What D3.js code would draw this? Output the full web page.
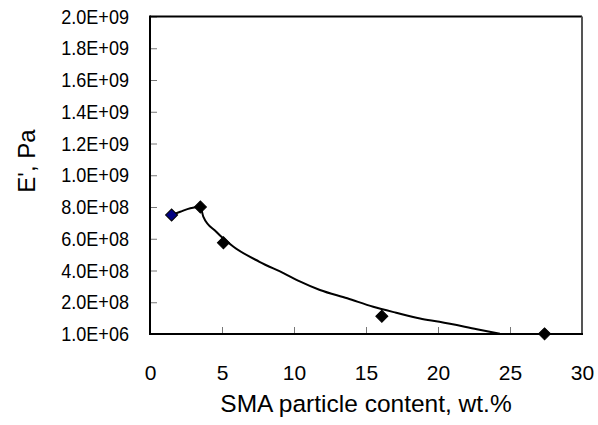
<!DOCTYPE html>
<html>
<head>
<meta charset="utf-8">
<script src="https://cdn.jsdelivr.net/npm/d3@7"></script>
<style>
  body { margin: 0; background: #fff; }
  text { font-family: "Liberation Sans", Arial, sans-serif; }
</style>
</head>
<body>
<div id="chart-area"></div>
<script>
// measured points (wt.% , E' in Pa)
var content = [1.5, 3.5, 5.1, 16.1, 27.4];
var modulus = [7.5e8, 8.0e8, 5.75e8, 1.12e8, 1e6];
var firstColor = ["#000080", "#000000", "#000000", "#000000", "#000000"];

// fitted trend line
var trendX = [1.5, 2.1, 2.8, 3.5, 3.7, 4.6, 5.8, 7.6, 9.3, 10.4, 11.8, 13.7, 15.5, 17.1, 18.75, 20.1, 22.7, 24.3];
var trendY = [7.5e8, 7.7e8, 7.92e8, 8.0e8, 7.4e8, 6.44e8, 5.5e8, 4.55e8, 3.82e8, 3.31e8, 2.77e8, 2.25e8, 1.72e8, 1.34e8, 0.98e8, 0.77e8, 0.3e8, 1e6];

var yTicks = [0, 2e8, 4e8, 6e8, 8e8, 1e9, 1.2e9, 1.4e9, 1.6e9, 1.8e9, 2e9];
var xTicks = [0, 5, 10, 15, 20, 25, 30];

var margin = { left: 150, right: 16, top: 16.5, bottom: 91 };
var width = 598 - margin.left - margin.right,
    height = 425 - margin.top - margin.bottom;

var svg = d3.select("#chart-area").append("svg")
    .attr("width", 598)
    .attr("height", 425);

var g = svg.append("g")
    .attr("transform", "translate(" + margin.left + "," + margin.top + ")");

var x = d3.scaleLinear().domain([0, 30]).range([0, width]);
var y = d3.scaleLinear().domain([0, 2e9]).range([height, 0]);

// ticks point inward
var xAxis = d3.axisBottom(x).tickValues(xTicks).tickSize(-7)
    .tickFormat(function (d) { return d; });
var gx = g.append("g")
    .attr("transform", "translate(0," + height + ")")
    .call(xAxis);
gx.select(".domain").remove();
gx.selectAll("line").attr("stroke", "#777");
gx.selectAll("text")
    .attr("font-size", "21px")
    .attr("fill", "#000")
    .attr("dy", null)
    .attr("y", 46);

var squeeze = 0.86; // tick labels on the y axis are drawn narrow
var yAxis = d3.axisLeft(y).tickValues(yTicks).tickSize(-7)
    .tickFormat(function (d) {
        if (d === 0) return "1.0E+06";
        var e = Math.floor(Math.log10(d));
        return (d / Math.pow(10, e)).toFixed(1) + "E+" + (e < 10 ? "0" + e : e);
    });
var gy = g.append("g").call(yAxis);
gy.select(".domain").remove();
gy.selectAll("line").attr("stroke", "#777");
gy.selectAll("text")
    .attr("font-size", "21px")
    .attr("fill", "#000")
    .attr("x", -21 / squeeze)
    .attr("transform", "scale(" + squeeze + ",1)");

// frame
g.append("line").attr("x1", 0).attr("x2", width).attr("y1", 0).attr("y2", 0)
    .attr("stroke", "#000").attr("stroke-width", 2);
g.append("line").attr("x1", width).attr("x2", width).attr("y1", 0).attr("y2", height)
    .attr("stroke", "#555").attr("stroke-width", 2);
g.append("line").attr("x1", 0).attr("x2", 0).attr("y1", -1).attr("y2", height + 1)
    .attr("stroke", "#000").attr("stroke-width", 2);
g.append("line").attr("x1", 0).attr("x2", width + 1).attr("y1", height).attr("y2", height)
    .attr("stroke", "#000").attr("stroke-width", 2);

// trend line
var line = d3.line()
    .x(function (d, i) { return x(trendX[i]); })
    .y(function (d) { return y(d); })
    .curve(d3.curveMonotoneX);
g.append("path")
    .attr("d", line(trendY))
    .attr("fill", "none")
    .attr("stroke", "#000")
    .attr("stroke-width", 2);

// markers
var diamond = d3.symbol().type(d3.symbolSquare).size(72);
g.selectAll(".pt")
    .data(modulus)
    .enter().append("path")
    .attr("class", "pt")
    .attr("d", diamond)
    .attr("transform", function (d, i) {
        return "translate(" + x(content[i]) + "," + y(d) + ") rotate(45)";
    })
    .attr("fill", function (d, i) { return firstColor[i]; })
    .attr("stroke", "#000")
    .attr("stroke-width", 1);

// labels
svg.append("text")
    .attr("x", margin.left + width / 2)
    .attr("y", 412)
    .attr("text-anchor", "middle")
    .attr("font-size", "24.5px")
    .text("SMA particle content, wt.%");

svg.append("text")
    .attr("transform", "translate(35,161) rotate(-90)")
    .attr("text-anchor", "middle")
    .attr("font-size", "24px")
    .text("E', Pa");
</script>
</body>
</html>
